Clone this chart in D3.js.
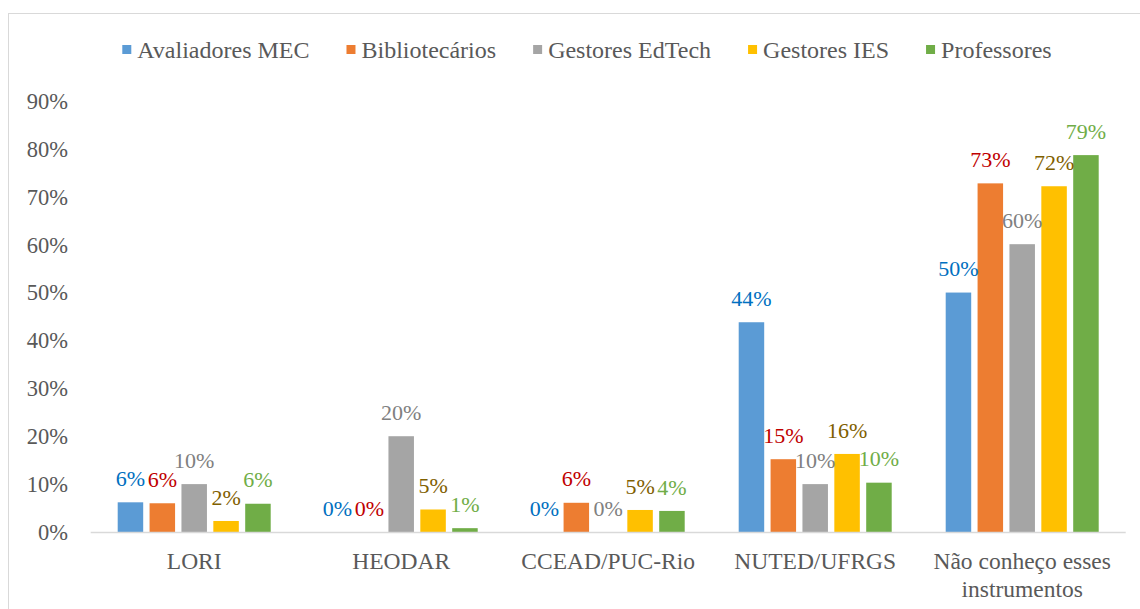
<!DOCTYPE html>
<meta charset="utf-8">
<style>
	body { margin: 0; background: #fff; }
	text { font-family: "Liberation Serif", "Times New Roman", serif; }
	.tick-label { fill: #595959; font-size: 22.5px; }
	.cat-label { fill: #595959; font-size: 23.5px; }
	.legend-label { fill: #595959; font-size: 24px; }
	.value-label { font-size: 22px; }
</style>
<body>
<div id="chart"></div>
<script src="https://cdnjs.cloudflare.com/ajax/libs/d3/7.8.5/d3.min.js"></script>
<script>
	// categories and series
	var categories = ["LORI", "HEODAR", "CCEAD/PUC-Rio", "NUTED/UFRGS", "Não conheço esses instrumentos"];
	var series = ["Avaliadores MEC", "Bibliotecários", "Gestores EdTech", "Gestores IES", "Professores"];

	// values in %, one array per series (same order as categories)
	var avaliadores = [6.2, 0, 0, 43.8, 50.0];
	var bibliotecarios = [6.0, 0, 6.1, 15.2, 72.8];
	var gestoresEdtech = [10.0, 20.0, 0, 10.0, 60.1];
	var gestoresIes = [2.3, 4.7, 4.6, 16.3, 72.2];
	var professores = [5.9, 0.8, 4.4, 10.3, 78.7];

	var yTicks = [0, 10, 20, 30, 40, 50, 60, 70, 80, 90];

	var barColors = ["#5B9BD5", "#ED7D31", "#A5A5A5", "#FFC000", "#70AD47"];
	var labelColors = ["#0070C0", "#C00000", "#808080", "#7F6000", "#70AD47"];

	var values = [avaliadores, bibliotecarios, gestoresEdtech, gestoresIes, professores];

	var W = 1140, H = 609;
	var svg = d3.select("#chart").append("svg")
		.attr("width", W)
		.attr("height", H);

	// outer chart border (runs off the picture to the right and bottom)
	svg.append("rect")
		.attr("x", 8.5).attr("y", 13.5)
		.attr("width", 1300).attr("height", 800)
		.attr("fill", "none")
		.attr("stroke", "#D9D9D9");

	var x = d3.scaleBand().domain(categories).range([90.7, 1125.7]).padding(0);
	var xs = d3.scaleBand().domain(series).range([0, 153]).paddingInner(0.2);
	var y = d3.scaleLinear().domain([0, 90]).range([532, 101]);
	var groupOffset = (x.bandwidth() - 153) / 2;

	// y tick labels (no axis line, no gridlines)
	svg.append("g").selectAll("text")
		.data(yTicks)
		.enter().append("text")
		.attr("class", "tick-label")
		.attr("x", 68)
		.attr("y", function (d) { return y(d); })
		.attr("dy", "0.35em")
		.attr("text-anchor", "end")
		.text(function (d) { return d + "%"; });

	// bars
	series.forEach(function (s, i) {
		var g = svg.append("g");
		g.selectAll("rect")
			.data(values[i])
			.enter().append("rect")
			.attr("x", function (d, j) { return x(categories[j]) + groupOffset + xs(s); })
			.attr("y", function (d) { return y(d); })
			.attr("width", xs.bandwidth())
			.attr("height", function (d) { return y(0) - y(d); })
			.attr("fill", barColors[i]);
	});

	// baseline
	svg.append("line")
		.attr("x1", x.range()[0]).attr("x2", x.range()[1])
		.attr("y1", y(0) + 0.5).attr("y2", y(0) + 0.5)
		.attr("stroke", "#D9D9D9")
		.attr("stroke-width", 1.5);

	// value labels
	series.forEach(function (s, i) {
		svg.append("g").selectAll("text")
			.data(values[i])
			.enter().append("text")
			.attr("class", "value-label")
			.attr("fill", labelColors[i])
			.attr("text-anchor", "middle")
			.attr("x", function (d, j) { return x(categories[j]) + groupOffset + xs(s) + xs.bandwidth() / 2; })
			.attr("y", function (d) { return y(d) - 24; })
			.attr("dy", "0.35em")
			.text(function (d) { return Math.round(d) + "%"; });
	});

	// category labels (last one wraps on two lines)
	var catLines = {
		"Não conheço esses instrumentos": ["Não conheço esses", "instrumentos"]
	};
	categories.forEach(function (c) {
		var lines = catLines[c] || [c];
		var t = svg.append("text")
			.attr("class", "cat-label")
			.attr("text-anchor", "middle")
			.attr("x", x(c) + x.bandwidth() / 2)
			.attr("y", 561);
		lines.forEach(function (l, k) {
			t.append("tspan")
				.attr("x", x(c) + x.bandwidth() / 2)
				.attr("dy", k === 0 ? "0.35em" : "1.2em")
				.text(l);
		});
	});

	// legend
	var legend = svg.append("g");
	var lx = 0;
	series.forEach(function (s, i) {
		var item = legend.append("g").attr("transform", "translate(" + lx + ",0)");
		item.append("rect")
			.attr("x", 0).attr("y", 45)
			.attr("width", 9).attr("height", 9)
			.attr("fill", barColors[i]);
		var t = item.append("text")
			.attr("class", "legend-label")
			.attr("x", 15)
			.attr("y", 50)
			.attr("dy", "0.35em")
			.text(s);
		lx += 15 + t.node().getComputedTextLength() + 37;
	});
	var legendWidth = lx - 37;
	legend.attr("transform", "translate(" + (587 - legendWidth / 2) + ",0)");
</script>
</body>
